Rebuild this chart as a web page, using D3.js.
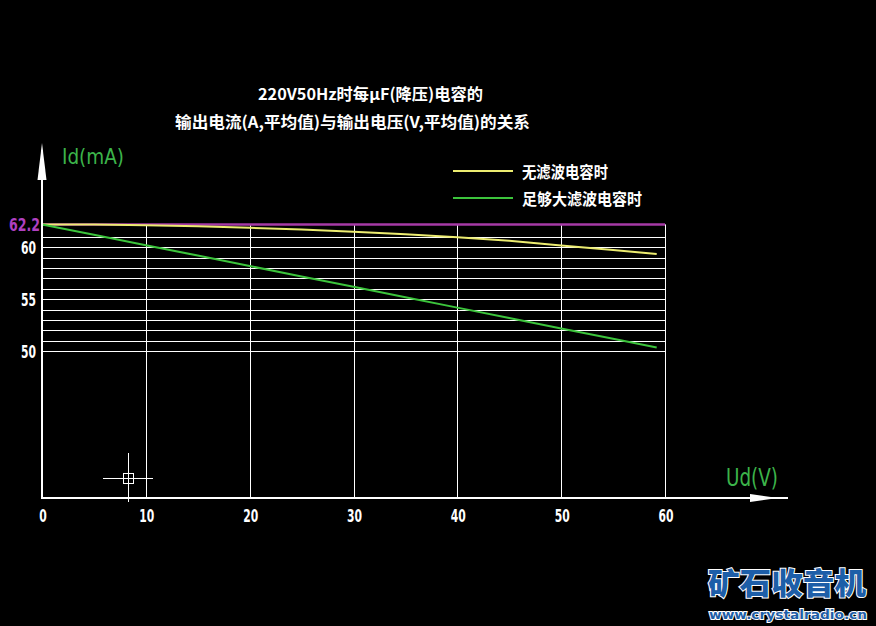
<!DOCTYPE html>
<html><head><meta charset="utf-8">
<script src="https://cdn.jsdelivr.net/npm/d3@7/dist/d3.min.js"></script>
<style>html,body{margin:0;padding:0;background:#000;}svg{display:block;}</style>
</head><body>
<script>
// Data
const voltages = [0, 5, 10, 15, 20, 25, 30, 35, 40, 45, 50, 55, 59.2];
const noFilterCurrent = [62.2, 62.18, 62.12, 62.02, 61.88, 61.7, 61.5, 61.25, 60.97, 60.62, 60.17, 59.75, 59.35];
const bigFilterCurrent = [62.2, 61.2, 60.2, 59.2, 58.2, 57.2, 56.2, 55.2, 54.2, 53.2, 52.2, 51.2, 50.36];
const xTicks = [0, 10, 20, 30, 40, 50, 60];
const yGrid = [50, 51, 52, 53, 54, 55, 56, 57, 58, 59, 60, 61];
const yTickLabels = [50, 55, 60];
const topValue = 62.2;
const seriesNames = ["无滤波电容时", "足够大滤波电容时"];
const titleLines = ["220V50Hz时每μF(降压)电容的", "输出电流(A,平均值)与输出电压(V,平均值)的关系"];

const W = 876, H = 626;
const svg = d3.select("body").append("svg").attr("width", W).attr("height", H);
svg.append("rect").attr("width", W).attr("height", H).attr("fill", "#000");

const x = d3.scaleLinear().domain([0, 60]).range([42, 665]);
const y = d3.scaleLinear().domain([50, 62.2]).range([351.3, 224.4]);
const baseY = 498;

const numFont = "'DejaVu Sans Condensed', 'DejaVu Sans', sans-serif";
const cjkFont = "'Noto Sans CJK SC', sans-serif";

// horizontal grid
svg.append("g").selectAll("line").data(yGrid).join("line")
  .attr("x1", x(0)).attr("x2", x(60))
  .attr("y1", d => Math.round(y(d)) + 0.5).attr("y2", d => Math.round(y(d)) + 0.5)
  .attr("stroke", "#fff").attr("stroke-width", 1);

// vertical grid
svg.append("g").selectAll("line").data(xTicks.filter(d => d > 0)).join("line")
  .attr("x1", d => Math.round(x(d)) + 0.5).attr("x2", d => Math.round(x(d)) + 0.5)
  .attr("y1", y(topValue)).attr("y2", baseY)
  .attr("stroke", "#fff").attr("stroke-width", 1);

// magenta top line
svg.append("line").attr("x1", x(0)).attr("x2", x(60))
  .attr("y1", y(topValue)).attr("y2", y(topValue))
  .attr("stroke", "#a63aa6").attr("stroke-width", 2.5);

// series lines
const line = d3.line().x(d => x(d[0])).y(d => y(d[1]));
svg.append("path").datum(voltages.map((v, i) => [v, noFilterCurrent[i]]))
  .attr("d", line).attr("fill", "none").attr("stroke", "#ecec70").attr("stroke-width", 2);
svg.append("path").datum(voltages.map((v, i) => [v, bigFilterCurrent[i]]))
  .attr("d", line).attr("fill", "none").attr("stroke", "#3cc43c").attr("stroke-width", 2);

// axes
svg.append("line").attr("x1", 42).attr("x2", 42).attr("y1", 150).attr("y2", baseY + 1)
  .attr("stroke", "#fff").attr("stroke-width", 2);
svg.append("path").attr("d", "M42,143 L46.5,180 L37.5,180 Z").attr("fill", "#fff");
svg.append("line").attr("x1", 41).attr("x2", 788).attr("y1", baseY).attr("y2", baseY)
  .attr("stroke", "#fff").attr("stroke-width", 2);
svg.append("path").attr("d", "M778,498 L750,494 L750,502 Z").attr("fill", "#fff");

// x tick labels
svg.append("g").selectAll("text").data(xTicks).join("text")
  .attr("x", d => x(d) + 1).attr("y", 522)
  .attr("text-anchor", "middle").attr("fill", "#fff")
  .attr("font-family", numFont).attr("font-size", 18).attr("font-weight", "bold")
  .attr("textLength", d => String(d).length * 7.5).attr("lengthAdjust", "spacingAndGlyphs")
  .text(d => d);

// y tick labels
svg.append("g").selectAll("text").data(yTickLabels).join("text")
  .attr("x", 36).attr("y", d => y(d) + 7)
  .attr("text-anchor", "end").attr("fill", "#fff")
  .attr("font-family", numFont).attr("font-size", 18).attr("font-weight", "bold")
  .attr("textLength", 15).attr("lengthAdjust", "spacingAndGlyphs")
  .text(d => d);
svg.append("text").attr("x", 40).attr("y", y(topValue) + 7)
  .attr("text-anchor", "end").attr("fill", "#b040c0")
  .attr("font-family", numFont).attr("font-size", 18).attr("font-weight", "bold")
  .attr("textLength", 31).attr("lengthAdjust", "spacingAndGlyphs")
  .text(topValue);

// axis titles
svg.append("text").attr("x", 62).attr("y", 164).attr("fill", "#3cb44a")
  .attr("font-family", numFont).attr("font-size", 22)
  .attr("textLength", 62).attr("lengthAdjust", "spacingAndGlyphs").text("Id(mA)");
svg.append("text").attr("x", 726).attr("y", 486).attr("fill", "#3cb44a")
  .attr("font-family", numFont).attr("font-size", 24)
  .attr("textLength", 52).attr("lengthAdjust", "spacingAndGlyphs").text("Ud(V)");

// title
svg.append("text").attr("x", 258).attr("y", 100).attr("fill", "#fff")
  .attr("font-family", cjkFont).attr("font-size", 16).attr("font-weight", "bold")
  .attr("textLength", 225).attr("lengthAdjust", "spacingAndGlyphs").text(titleLines[0]);
svg.append("text").attr("x", 175).attr("y", 128).attr("fill", "#fff")
  .attr("font-family", cjkFont).attr("font-size", 16).attr("font-weight", "bold")
  .attr("textLength", 355).attr("lengthAdjust", "spacingAndGlyphs").text(titleLines[1]);

// legend
const legColors = ["#ecec70", "#3cc43c"];
const legY = [171, 198];
seriesNames.forEach((n, i) => {
  svg.append("line").attr("x1", 453).attr("x2", 513).attr("y1", legY[i]).attr("y2", legY[i])
    .attr("stroke", legColors[i]).attr("stroke-width", 2);
  svg.append("text").attr("x", 522).attr("y", legY[i] + 7).attr("fill", "#fff")
    .attr("font-family", cjkFont).attr("font-size", 16).attr("font-weight", "bold")
    .attr("textLength", i === 0 ? 86 : 120).attr("lengthAdjust", "spacingAndGlyphs").text(n);
});

// cursor crosshair
const cur = svg.append("g").attr("stroke", "#fff").attr("stroke-width", 1).attr("fill", "none");
cur.append("line").attr("x1", 103).attr("x2", 153).attr("y1", 478.5).attr("y2", 478.5);
cur.append("line").attr("x1", 128.5).attr("x2", 128.5).attr("y1", 453).attr("y2", 502);
cur.append("rect").attr("x", 123.5).attr("y", 473.5).attr("width", 10).attr("height", 10);

// watermark
svg.append("text").attr("x", 708).attr("y", 594).attr("fill", "#1d5ea8")
  .attr("stroke", "#fff").attr("stroke-width", 2).attr("paint-order", "stroke")
  .attr("font-family", cjkFont).attr("font-size", 30).attr("font-weight", "900")
  .attr("textLength", 158).attr("lengthAdjust", "spacingAndGlyphs").text("矿石收音机");
svg.append("text").attr("x", 709).attr("y", 619).attr("fill", "#1d5ea8")
  .attr("stroke", "#fff").attr("stroke-width", 2).attr("paint-order", "stroke")
  .attr("font-family", "'DejaVu Sans', sans-serif").attr("font-size", 13).attr("font-weight", "bold")
  .attr("textLength", 158).attr("lengthAdjust", "spacingAndGlyphs").text("www.crystalradio.cn");
</script>
</body></html>
